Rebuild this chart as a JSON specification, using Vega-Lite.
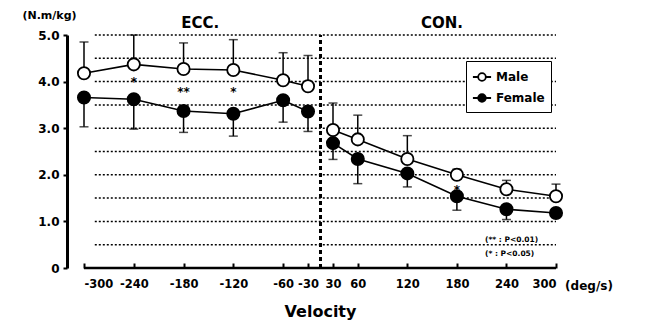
{
  "$schema": "https://vega.github.io/schema/vega-lite/v6.json",
  "autosize": "none",
  "width": 490,
  "height": 233,
  "padding": {"left": 67, "top": 35, "right": 90, "bottom": 54},
  "background": "white",
  "config": {
    "view": {"stroke": null},
    "font": "DejaVu Sans",
    "text": {"font": "DejaVu Sans", "fontWeight": "bold"}
  },
  "datasets": {
    "torque": [
      {"sex": "Male", "phase": "ECC", "velocity": -300, "torque": 4.18, "bar": 4.85},
      {"sex": "Male", "phase": "ECC", "velocity": -240, "torque": 4.37, "bar": 5.0},
      {"sex": "Male", "phase": "ECC", "velocity": -180, "torque": 4.27, "bar": 4.83},
      {"sex": "Male", "phase": "ECC", "velocity": -120, "torque": 4.25, "bar": 4.9},
      {"sex": "Male", "phase": "ECC", "velocity": -60, "torque": 4.03, "bar": 4.62},
      {"sex": "Male", "phase": "ECC", "velocity": -30, "torque": 3.9, "bar": 4.56},
      {"sex": "Male", "phase": "CON", "velocity": 30, "torque": 2.96, "bar": 3.54},
      {"sex": "Male", "phase": "CON", "velocity": 60, "torque": 2.76, "bar": 3.28},
      {"sex": "Male", "phase": "CON", "velocity": 120, "torque": 2.34, "bar": 2.84},
      {"sex": "Male", "phase": "CON", "velocity": 180, "torque": 2.0, "bar": 2.12},
      {"sex": "Male", "phase": "CON", "velocity": 240, "torque": 1.69, "bar": 1.88},
      {"sex": "Male", "phase": "CON", "velocity": 300, "torque": 1.54, "bar": 1.8},
      {"sex": "Female", "phase": "ECC", "velocity": -300, "torque": 3.66, "bar": 3.03},
      {"sex": "Female", "phase": "ECC", "velocity": -240, "torque": 3.62, "bar": 2.98},
      {"sex": "Female", "phase": "ECC", "velocity": -180, "torque": 3.37, "bar": 2.91},
      {"sex": "Female", "phase": "ECC", "velocity": -120, "torque": 3.31, "bar": 2.83},
      {"sex": "Female", "phase": "ECC", "velocity": -60, "torque": 3.6, "bar": 3.13},
      {"sex": "Female", "phase": "ECC", "velocity": -30, "torque": 3.36, "bar": 2.93},
      {"sex": "Female", "phase": "CON", "velocity": 30, "torque": 2.68, "bar": 2.33},
      {"sex": "Female", "phase": "CON", "velocity": 60, "torque": 2.34, "bar": 1.81},
      {"sex": "Female", "phase": "CON", "velocity": 120, "torque": 2.03, "bar": 1.74},
      {"sex": "Female", "phase": "CON", "velocity": 180, "torque": 1.54, "bar": 1.24},
      {"sex": "Female", "phase": "CON", "velocity": 240, "torque": 1.26, "bar": 1.04},
      {"sex": "Female", "phase": "CON", "velocity": 300, "torque": 1.18, "bar": 1.08}
    ],
    "grid": [
      {"level": 0.5}, {"level": 1.0}, {"level": 1.5}, {"level": 2.0}, {"level": 2.5},
      {"level": 3.0}, {"level": 3.5}, {"level": 4.0}, {"level": 4.5}, {"level": 5.0}
    ],
    "stars": [
      {"velocity": -240, "level": 4.0, "mark": "*"},
      {"velocity": -180, "level": 3.78, "mark": "**"},
      {"velocity": -120, "level": 3.78, "mark": "*"},
      {"velocity": 180, "level": 1.68, "mark": "*"}
    ]
  },
  "layer": [
    {
      "data": {"name": "grid"},
      "mark": {"type": "rule", "color": "black", "strokeWidth": 1.5, "strokeDash": [2, 2]},
      "encoding": {
        "x": {"datum": -287, "type": "quantitative"},
        "x2": {"datum": 300},
        "y": {"field": "level", "type": "quantitative"}
      }
    },
    {
      "data": {"values": [{}]},
      "mark": {"type": "rule", "color": "black", "strokeWidth": 3, "strokeDash": [4, 3]},
      "encoding": {
        "x": {"datum": 0, "type": "quantitative"},
        "y": {"datum": 0, "type": "quantitative"},
        "y2": {"datum": 5.0}
      }
    },
    {
      "data": {"values": [{}]},
      "mark": {"type": "rule", "color": "black", "strokeWidth": 2.5},
      "encoding": {
        "x": {"datum": -300, "type": "quantitative"},
        "x2": {"datum": 300},
        "y": {"datum": 0, "type": "quantitative"}
      }
    },
    {
      "data": {"values": [{}]},
      "mark": {"type": "text", "fontSize": 15, "fontWeight": "bold", "fill": "black"},
      "encoding": {
        "x": {"datum": -160, "type": "quantitative"},
        "y": {"datum": 5.26, "type": "quantitative"},
        "text": {"value": "ECC."}
      }
    },
    {
      "data": {"values": [{}]},
      "mark": {"type": "text", "fontSize": 15, "fontWeight": "bold", "fill": "black"},
      "encoding": {
        "x": {"datum": 162, "type": "quantitative"},
        "y": {"datum": 5.26, "type": "quantitative"},
        "text": {"value": "CON."}
      }
    },
    {
      "data": {"values": [{}]},
      "mark": {"type": "text", "fontSize": 12, "fontWeight": "bold", "fill": "black", "align": "left"},
      "encoding": {
        "x": {"datum": 311, "type": "quantitative"},
        "y": {"datum": -0.38, "type": "quantitative"},
        "text": {"value": "(deg/s)"}
      }
    },
    {
      "data": {"values": [{}]},
      "mark": {"type": "text", "fontSize": 7.5, "fontWeight": "bold", "fill": "black", "align": "left"},
      "encoding": {
        "x": {"datum": 214, "type": "quantitative"},
        "y": {"datum": 0.6, "type": "quantitative"},
        "text": {"value": "(** : P<0.01)"}
      }
    },
    {
      "data": {"values": [{}]},
      "mark": {"type": "text", "fontSize": 7.5, "fontWeight": "bold", "fill": "black", "align": "left"},
      "encoding": {
        "x": {"datum": 214, "type": "quantitative"},
        "y": {"datum": 0.3, "type": "quantitative"},
        "text": {"value": "(* : P<0.05)"}
      }
    },
    {
      "data": {"name": "stars"},
      "mark": {"type": "text", "fontSize": 12, "fontWeight": "bold", "fill": "black", "baseline": "middle"},
      "encoding": {
        "x": {"field": "velocity", "type": "quantitative"},
        "y": {"field": "level", "type": "quantitative"},
        "text": {"field": "mark"}
      }
    },
    {
      "data": {"name": "torque"},
      "mark": {"type": "rule", "color": "black", "strokeWidth": 1.5},
      "encoding": {
        "x": {"field": "velocity", "type": "quantitative"},
        "y": {"field": "torque", "type": "quantitative"},
        "y2": {"field": "bar"}
      }
    },
    {
      "data": {"name": "torque"},
      "mark": {"type": "tick", "color": "black", "orient": "horizontal", "size": 9, "thickness": 1.5},
      "encoding": {
        "x": {"field": "velocity", "type": "quantitative"},
        "y": {"field": "bar", "type": "quantitative"}
      }
    },
    {
      "data": {"name": "torque"},
      "mark": {"type": "line", "color": "black", "strokeWidth": 1.6},
      "encoding": {
        "x": {"field": "velocity", "type": "quantitative"},
        "y": {"field": "torque", "type": "quantitative"},
        "detail": [{"field": "sex"}, {"field": "phase"}]
      }
    },
    {
      "data": {"name": "torque"},
      "mark": {"type": "point", "shape": "circle", "size": 150, "stroke": "black", "strokeWidth": 1.8, "filled": true, "opacity": 1},
      "encoding": {
        "x": {
          "field": "velocity",
          "type": "quantitative",
          "scale": {"domain": [-300, -30, 30, 300], "range": [17, 241, 266, 489], "nice": false, "zero": false},
          "axis": {
            "values": [-300, -240, -180, -120, -60, -30, 30, 60, 120, 180, 240, 300],
            "labelExpr": "datum.value < 0 ? '-' + abs(datum.value) : '' + datum.value",
            "domain": false,
            "grid": false,
            "ticks": true,
            "tickSize": -5,
            "tickWidth": 2,
            "tickColor": "black",
            "labelFont": "DejaVu Sans",
            "labelFontWeight": "bold",
            "labelFontSize": 11.5,
            "labelColor": "black",
            "labelPadding": 15,
            "labelOverlap": false,
            "title": "Velocity",
            "titleFont": "DejaVu Sans",
            "titleFontWeight": "bold",
            "titleFontSize": 16,
            "titleColor": "black",
            "titlePadding": 14
          }
        },
        "y": {
          "field": "torque",
          "type": "quantitative",
          "scale": {"domain": [0, 5], "nice": false},
          "axis": {
            "values": [0, 0.5, 1, 1.5, 2, 2.5, 3, 3.5, 4, 4.5, 5],
            "labelExpr": "datum.value == 0 ? '0' : format(datum.value, '.1f')",
            "domain": true,
            "domainColor": "black",
            "domainWidth": 3,
            "grid": false,
            "tickSize": 4,
            "tickWidth": 2,
            "tickColor": "black",
            "labelFont": "DejaVu Sans",
            "labelFontWeight": "bold",
            "labelFontSize": 12,
            "labelColor": "black",
            "labelPadding": 4,
            "title": "(N.m/kg)",
            "titleAngle": 0,
            "titleX": -18,
            "titleY": -20,
            "titleAlign": "center",
            "titleBaseline": "middle",
            "titleFont": "DejaVu Sans",
            "titleFontWeight": "bold",
            "titleFontSize": 11,
            "titleColor": "black"
          }
        },
        "fill": {
          "field": "sex",
          "type": "nominal",
          "scale": {"domain": ["Male", "Female"], "range": ["white", "black"]},
          "legend": {
            "title": null,
            "orient": "none",
            "legendX": 399,
            "legendY": 26,
            "direction": "vertical",
            "strokeColor": "black",
            "fillColor": "white",
            "padding": 6,
            "rowPadding": 3,
            "symbolType": "M-1,0L-0.42,0M0.42,0L1,0M-0.42,0A0.42,0.42 0 1,1 0.42,0A0.42,0.42 0 1,1 -0.42,0Z",
            "symbolSize": 330,
            "symbolStrokeColor": "black",
            "symbolStrokeWidth": 1.8,
            "labelFont": "DejaVu Sans",
            "labelFontWeight": "bold",
            "labelFontSize": 12,
            "labelColor": "black"
          }
        }
      }
    }
  ]
}
